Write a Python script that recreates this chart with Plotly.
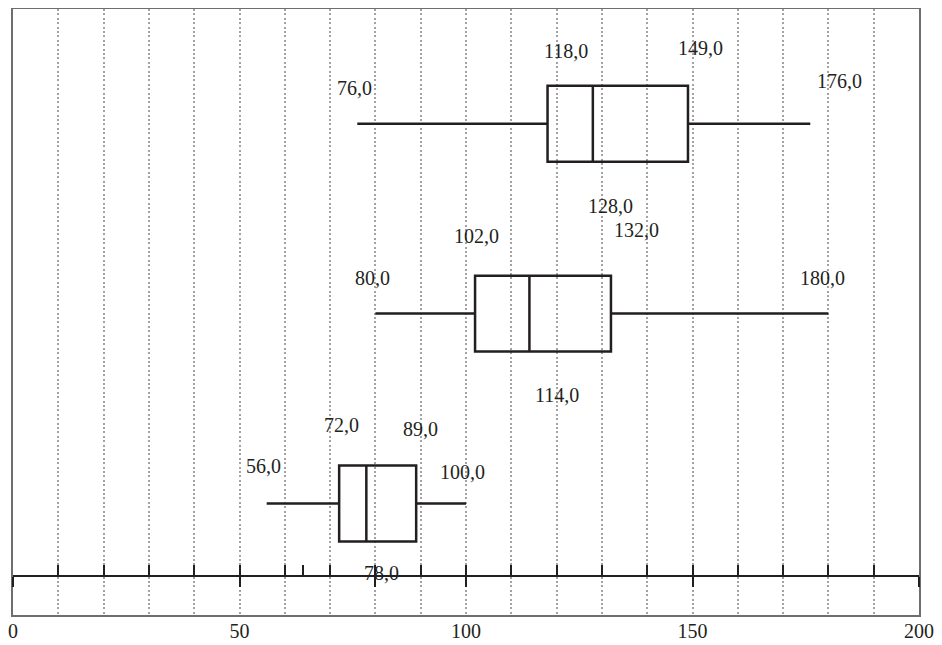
import plotly.graph_objects as go

# ---- data ----
positions = [1, 2, 3]            # bottom, middle, top
lower_whisker = [56, 80, 76]
q1_values = [72, 102, 118]
median_values = [78, 114, 128]
q3_values = [89, 132, 149]
upper_whisker = [100, 180, 176]

x_tick_labels = [0, 50, 100, 150, 200]
inner_up_ticks = [0, 10, 20, 30, 40, 50, 60, 64, 70, 80, 90, 100, 110, 120,
                  130, 140, 150, 160, 170, 180, 190, 200]
inner_down_ticks = [0, 50, 80, 100, 150, 200]

# label pixel offsets (style), per box: lower, q1, q3, upper, median
label_offsets = {
    1: [(-3, 38), (2, 79), (4, 75), (-4, 32), (15, -69)],
    2: [(-3, 36), (1, 78), (26, 84), (-6, 36), (28, -81)],
    3: [(-3, 36), (18, 73), (13, 76), (29, 43), (18, -82)],
}

FONT = "Liberation Serif"
INK = "#231f20"
GRID = "#a3a3a3"
FRAME = "#6d6e71"
DOT = "2px,2.4px"

fig = go.Figure()
fig.add_trace(go.Box(
    y=positions,
    q1=q1_values, median=median_values, q3=q3_values,
    lowerfence=lower_whisker, upperfence=upper_whisker,
    orientation="h", width=0.4, whiskerwidth=0,
    fillcolor="rgba(0,0,0,0)",
    line=dict(color=INK, width=2.5),
    boxpoints=False, showlegend=False, hoverinfo="skip",
))
# invisible helpers so the inner axes get drawn
for ax in ["x2", "x3"]:
    fig.add_trace(go.Scatter(x=[0, 200], y=[1, 1], xaxis=ax, yaxis="y",
                             mode="markers", marker=dict(opacity=0),
                             showlegend=False, hoverinfo="skip"))

annotations = []
for i, p in enumerate(positions):
    vals = [lower_whisker[i], q1_values[i], q3_values[i], upper_whisker[i], median_values[i]]
    for v, (dx, dy) in zip(vals, label_offsets[p]):
        annotations.append(dict(
            x=v, y=p, xref="x", yref="y", text=f"{v:.1f}".replace(".", ","),
            showarrow=False, xshift=dx, yshift=dy,
            font=dict(family=FONT, size=20, color=INK),
            xanchor="center", yanchor="middle",
        ))

axis_pos = 0.0644
fig.update_layout(
    width=942, height=645,
    margin=dict(l=5, r=31, t=1, b=38),
    paper_bgcolor="white", plot_bgcolor="white",
    xaxis=dict(
        range=[0, 200], tickvals=x_tick_labels, ticks="", automargin=False,
        ticklabelstandoff=-3,
        showgrid=True, gridcolor=GRID, griddash=DOT, gridwidth=2,
        minor=dict(dtick=10, tick0=0, showgrid=True, gridcolor=GRID,
                   griddash=DOT, gridwidth=2, ticks=""),
        showline=True, mirror=True, linecolor=FRAME, linewidth=1.5,
        zeroline=False,
        tickfont=dict(family=FONT, size=20, color=INK),
    ),
    yaxis=dict(
        range=[0.413, 3.604], showgrid=False, showticklabels=False,
        showline=True, mirror=True, linecolor=FRAME, linewidth=1.5,
        zeroline=False, ticks="", automargin=False,
    ),
    xaxis2=dict(
        overlaying="x", anchor="free", position=axis_pos, range=[0, 200],
        showline=True, linecolor=INK, linewidth=1.5, automargin=False,
        ticks="inside", tickvals=inner_up_ticks, ticklen=10, tickwidth=1.5,
        tickcolor=INK, showticklabels=False, showgrid=False, zeroline=False,
    ),
    xaxis3=dict(
        overlaying="x", anchor="free", position=axis_pos, range=[0, 200],
        showline=False, automargin=False,
        ticks="outside", tickvals=inner_down_ticks, ticklen=10, tickwidth=1.5,
        tickcolor=INK, showticklabels=False, showgrid=False, zeroline=False,
    ),
    annotations=annotations,
)

fig.write_html("out.html")
